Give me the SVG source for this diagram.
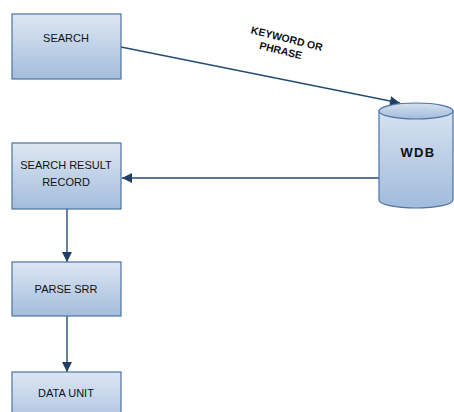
<svg xmlns="http://www.w3.org/2000/svg" width="454" height="412" viewBox="0 0 454 412">
  <defs>
    <linearGradient id="boxFill" x1="0" y1="0" x2="0" y2="1">
      <stop offset="0" stop-color="#dde7f3"/>
      <stop offset="1" stop-color="#a4bcdc"/>
    </linearGradient>
    <linearGradient id="cylFill" x1="0" y1="0" x2="0" y2="1">
      <stop offset="0" stop-color="#d6e2f1"/>
      <stop offset="1" stop-color="#a2bbdb"/>
    </linearGradient>
    <marker id="arrow" viewBox="0 0 10 10" refX="10" refY="5" markerWidth="12" markerHeight="10" markerUnits="userSpaceOnUse" orient="auto">
      <path d="M0,0 L10,5 L0,10 z" fill="#213f63"/>
    </marker>
  </defs>
  <style>
    .box { fill: url(#boxFill); stroke: #4d73a3; stroke-width: 1.2; }
    .cyl { fill: url(#cylFill); stroke: #4d73a3; stroke-width: 1.2; }
    .lbl { font-family: "Liberation Sans", Arial, sans-serif; font-size: 11px; fill: #111; text-anchor: middle; }
    .edge { fill: none; stroke: #264a72; stroke-width: 1.4; marker-end: url(#arrow); }
    .elbl { font-family: "Liberation Sans", Arial, sans-serif; font-size: 10.5px; font-weight: bold; fill: #111; text-anchor: middle; }
  </style>
  <rect width="454" height="412" fill="#ffffff"/>

  <g id="connectors">
    <line class="edge" x1="121" y1="47" x2="400" y2="103"/>
    <line class="edge" x1="379" y1="178" x2="122" y2="178"/>
    <line class="edge" x1="67" y1="209" x2="67" y2="262"/>
    <line class="edge" x1="67" y1="316" x2="67" y2="372"/>
    <g transform="rotate(14 285 46)">
      <text class="elbl" x="285" y="42">KEYWORD OR</text>
      <text class="elbl" x="282" y="55">PHRASE</text>
    </g>
  </g>

  <g id="search">
    <rect class="box" x="12" y="14" width="109" height="65"/>
    <text class="lbl" x="66" y="42">SEARCH</text>
  </g>

  <g id="wdb">
    <path class="cyl" d="M379,111 L379,200 A37,8 0 0 0 453,200 L453,111 Z"/>
    <ellipse class="cyl" cx="416" cy="111" rx="37" ry="8"/>
    <text class="lbl" x="418" y="157" style="font-weight:bold;font-size:13px;letter-spacing:1.3px">WDB</text>
  </g>

  <g id="search-result-record">
    <rect class="box" x="12" y="143" width="109" height="66"/>
    <text class="lbl" x="66" y="169">SEARCH RESULT</text>
    <text class="lbl" x="66" y="186">RECORD</text>
  </g>

  <g id="parse-srr">
    <rect class="box" x="12" y="262" width="109" height="54"/>
    <text class="lbl" x="66" y="293">PARSE SRR</text>
  </g>

  <g id="data-unit">
    <rect class="box" x="12" y="372" width="109" height="60"/>
    <text class="lbl" x="66" y="397">DATA UNIT</text>
  </g>
</svg>
